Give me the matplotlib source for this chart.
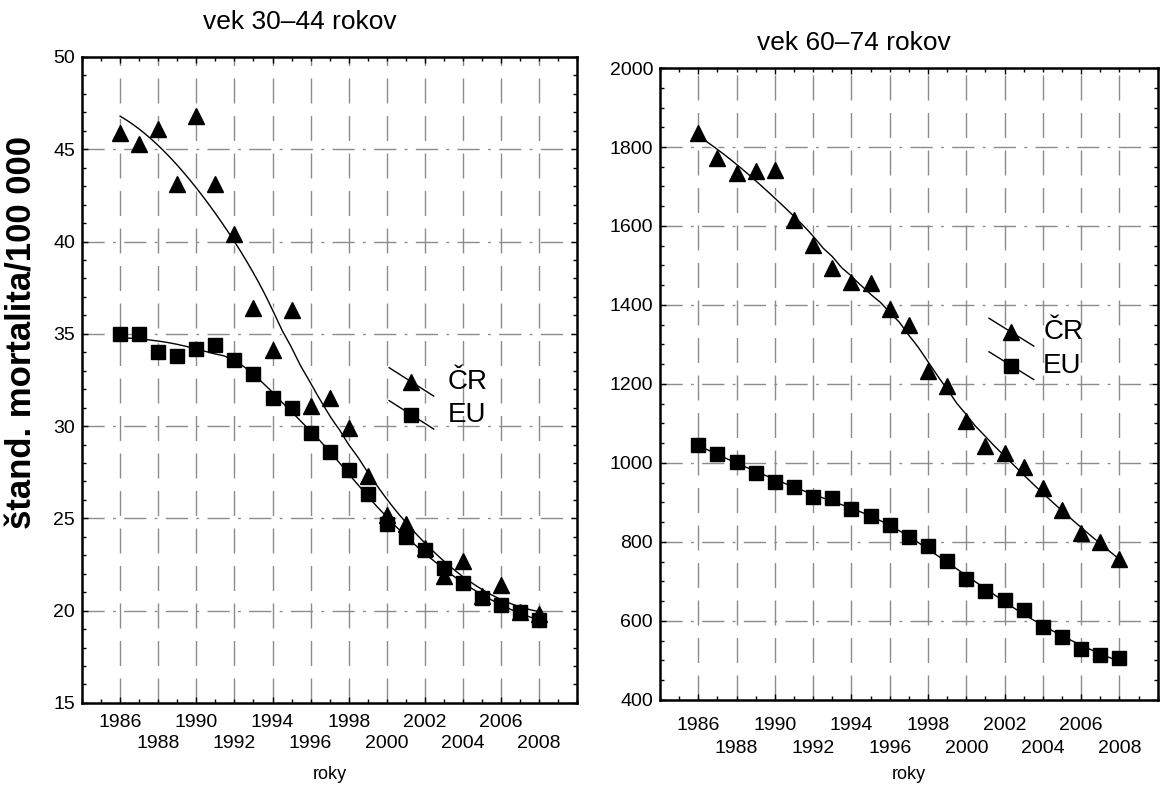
import numpy as np
import matplotlib
matplotlib.use("Agg")
import matplotlib.pyplot as plt
from matplotlib.ticker import MultipleLocator, FixedLocator, FuncFormatter
import matplotlib.patheffects as pe

years = list(range(1986, 2009))

# vek 30-44
cr_30 = [45.9, 45.3, 46.1, 43.1, 46.8, 43.1, 40.4, 36.4, 34.1, 36.3, 31.1, 31.5,
         29.9, 27.3, 25.2, 24.7, 23.4, 21.9, 22.7, 20.8, 21.4, 19.9, 19.8]
eu_30 = [35.0, 35.0, 34.0, 33.8, 34.2, 34.4, 33.6, 32.8, 31.5, 31.0, 29.6, 28.6,
         27.6, 26.3, 24.7, 24.0, 23.3, 22.3, 21.5, 20.7, 20.3, 19.9, 19.5]

# vek 60-74
cr_60 = [1835, 1773, 1735, 1738, 1741, 1614, 1552, 1493, 1459, 1456, 1391, 1349,
         1234, 1196, 1107, 1044, 1026, 990, 936, 881, 822, 800, 756]
eu_60 = [1045, 1022, 1003, 975, 952, 939, 914, 912, 883, 865, 844, 812,
         789, 752, 706, 676, 652, 628, 584, 559, 529, 514, 506]

titles = ["vek 30–44 rokov", "vek 60–74 rokov"]
ylabel = "štand. mortalita/100 000"
xlabel = "roky"
legend_labels = ["ČR", "EU"]
row1_years = list(range(1986, 2009, 4))   # 1986, 1990, ... first row
row2_years = list(range(1988, 2009, 4))   # 1988, 1992, ... second row
grid_years = list(range(1986, 2009, 2))

plt.rcParams["font.family"] = "Liberation Sans"


def dwls(x, y, frac):
    # distance weighted (local quadratic) fit
    x = np.asarray(x, float)
    y = np.asarray(y, float)
    xs = np.linspace(x.min(), x.max(), 200)
    k = max(4, int(np.ceil(frac * len(x))))
    out = []
    for x0 in xs:
        d = np.abs(x - x0)
        h = np.sort(d)[k - 1] * 1.0001
        w = np.clip(1 - (d / h) ** 3, 0, None) ** 3
        A = np.vstack([np.ones_like(x), x - x0, (x - x0) ** 2]).T
        W = np.sqrt(w)
        coef = np.linalg.lstsq(A * W[:, None], y * W, rcond=None)[0]
        out.append(coef[0])
    return xs, np.array(out)


fig = plt.figure(figsize=(11.6, 7.88), dpi=100)
ax1 = fig.add_axes([0.0707, 0.108, 0.427, 0.8197])
ax2 = fig.add_axes([0.569, 0.1117, 0.429, 0.802])

grid_c = "0.55"
halo = [pe.withStroke(linewidth=3, foreground="white")]


def row2_fmt(v, pos):
    yr = int(round(v))
    return str(yr) if yr in row2_years else ""


def setup(ax, ylim, ymaj, ymin, ticksize, pad, rowgap):
    ax.set_xlim(1984, 2010)
    ax.set_ylim(*ylim)
    ax.xaxis.set_major_locator(FixedLocator(row1_years))
    ax.xaxis.set_minor_locator(MultipleLocator(1))
    ax.xaxis.set_minor_formatter(FuncFormatter(row2_fmt))
    ax.yaxis.set_major_locator(MultipleLocator(ymaj))
    ax.yaxis.set_minor_locator(MultipleLocator(ymin))
    ax.tick_params(which="both", direction="in", top=True, right=True, width=1)
    ax.tick_params(which="major", length=4)
    ax.tick_params(which="minor", length=3)
    ax.tick_params(axis="x", which="major", pad=pad, labelsize=ticksize)
    ax.tick_params(axis="x", which="minor", pad=pad + rowgap, labelsize=ticksize)
    ax.tick_params(axis="y", which="major", pad=5, labelsize=ticksize)
    for sp in ax.spines.values():
        sp.set_linewidth(1.8)
    for v in grid_years:
        ax.axvline(v, color=grid_c, lw=1, ls=(0, (18, 9)), zorder=0)
    yt = np.arange(ylim[0] + ymaj, ylim[1], ymaj)
    for v in yt:
        ax.axhline(v, color=grid_c, lw=1, ls=(0, (16, 6, 2, 6)), zorder=0)


def draw(ax, cr, eu, frac_cr, frac_eu):
    xs, fc = dwls(years, cr, frac_cr)
    ax.plot(xs, fc, color="black", lw=1, zorder=3, path_effects=halo)
    xs, fe = dwls(years, eu, frac_eu)
    ax.plot(xs, fe, color="black", lw=1, zorder=3, path_effects=halo)
    ax.plot(years, cr, ls="none", marker="^", ms=11, color="black", zorder=4)
    ax.plot(years, eu, ls="none", marker="s", ms=10, color="black", zorder=4)


def legend(ax, x, y_cr, y_eu, tx):
    for yy, mk, ms, lab in [(y_cr, "^", 11, legend_labels[0]), (y_eu, "s", 10, legend_labels[1])]:
        ax.plot([x - 0.045, x + 0.045], [yy + 0.022, yy - 0.022], color="black", lw=1,
                transform=ax.transAxes, zorder=5, path_effects=halo)
        ax.plot([x], [yy], marker=mk, ms=ms, color="black", transform=ax.transAxes, zorder=6)
        ax.text(tx, yy, lab, transform=ax.transAxes, fontsize=20,
                va="center", ha="left", zorder=6)


setup(ax1, (15, 50), 5, 1, 14, 8, 15)
draw(ax1, cr_30, eu_30, 0.75, 0.5)
legend(ax1, 0.665, 0.497, 0.446, 0.738)
ax1.set_title(titles[0], fontsize=19, x=0.44, pad=20)
ax1.set_xlabel(xlabel, fontsize=13, labelpad=10)
ax1.set_ylabel(ylabel, fontsize=25, fontweight="bold")
ax1.yaxis.set_label_coords(-0.088, 0.574)

setup(ax2, (400, 2000), 200, 50, 14, 12, 17)
draw(ax2, cr_60, eu_60, 0.6, 0.6)
legend(ax2, 0.706, 0.582, 0.529, 0.77)
ax2.set_title(titles[1], fontsize=19, x=0.39, pad=13)
ax2.set_xlabel(xlabel, fontsize=13, labelpad=6)

fig.savefig("out.png", dpi=100)
